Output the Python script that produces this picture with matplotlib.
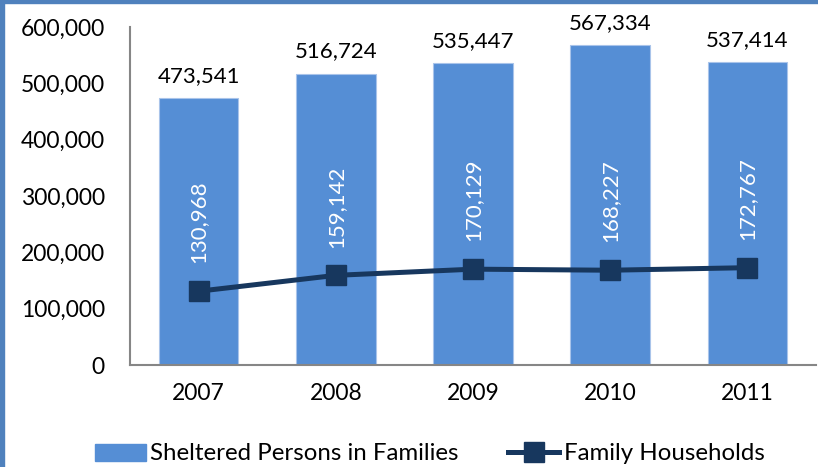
import matplotlib
matplotlib.use("Agg")
import matplotlib.pyplot as plt
from matplotlib import font_manager
from matplotlib.patches import Rectangle
from matplotlib.lines import Line2D
from matplotlib.ticker import FuncFormatter

years = ["2007", "2008", "2009", "2010", "2011"]
persons = [473541, 516724, 535447, 567334, 537414]
households = [130968, 159142, 170129, 168227, 172767]
series_names = ["Sheltered Persons in Families", "Family Households"]
y_ticks = [0, 100000, 200000, 300000, 400000, 500000, 600000]

names = {f.name for f in font_manager.fontManager.ttflist}
main_font = "Lato" if "Lato" in names else "DejaVu Sans"

bar_color = "#558ED5"
line_color = "#17375E"

fig = plt.figure(figsize=(8.18, 4.67), dpi=100)
ax = fig.add_axes([130 / 818, 1 - 365 / 467, 686 / 818, 338 / 467])

x = list(range(len(years)))
ax.bar(x, persons, width=0.58, color=bar_color, edgecolor="#A9C4EA", linewidth=0.8, zorder=2)
ax.plot(x, households, color=line_color, linewidth=3.6, marker="s", markersize=15,
        markerfacecolor=line_color, markeredgecolor=line_color, zorder=3)

for xi, v in zip(x, persons):
    ax.annotate(f"{v:,}", (xi, v), xytext=(0, 9), textcoords="offset points",
                ha="center", va="bottom", fontsize=16, family=main_font, color="black")
for xi, v in zip(x, households):
    ax.annotate(f"{v:,}", (xi, v), xytext=(0, 20), textcoords="offset points",
                ha="center", va="bottom", rotation=90, fontsize=16, family=main_font,
                color="white", zorder=4)

ax.set_xlim(-0.5, 4.5)
ax.set_ylim(0, 600000)
ax.set_yticks(y_ticks)
ax.yaxis.set_major_formatter(FuncFormatter(lambda v, p: f"{int(v):,}"))
ax.set_xticks(x)
ax.set_xticklabels(years)
ax.tick_params(axis="y", length=0, pad=18, labelsize=16.5)
ax.tick_params(axis="x", length=0, pad=13, labelsize=16.5)
for lab in ax.get_yticklabels() + ax.get_xticklabels():
    lab.set_family(main_font)

for s in ["top", "right"]:
    ax.spines[s].set_visible(False)
ax.spines["left"].set_color("#868686")
ax.spines["bottom"].set_color("#868686")
ax.spines["left"].set_linewidth(1.5)
ax.spines["bottom"].set_linewidth(1.5)

handles = [Rectangle((0, 0), 1, 1, color=bar_color),
           Line2D([0], [0], color=line_color, linewidth=3.6, marker="s", markersize=14)]
fig.legend(handles, series_names, loc="center left", bbox_to_anchor=(73 / 818, 1 - 454 / 467),
           ncol=2, frameon=False, prop={"family": main_font, "size": 17.3},
           handlelength=2.12, handleheight=0.72, handletextpad=0.2, columnspacing=2.05)

# figure frame (left and top blue border)
fig.patches.append(Rectangle((0, 0), 4 / 818, 1, transform=fig.transFigure,
                             color="#4F81BD", zorder=10))
fig.patches.append(Rectangle((0, 1 - 2.5 / 467), 1, 2.5 / 467, transform=fig.transFigure,
                             color="#4F81BD", zorder=10))

fig.savefig("out.png", dpi=100)
